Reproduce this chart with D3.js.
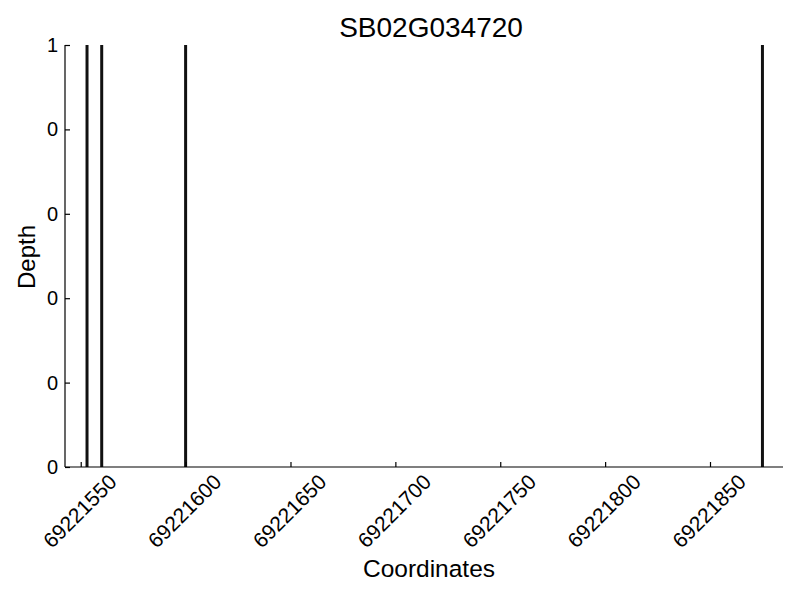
<!DOCTYPE html>
<html>
<head>
<meta charset="utf-8">
<script src="https://cdn.jsdelivr.net/npm/d3@7"></script>
<style>
  body { margin: 0; background: #fff; }
  text { font-family: "Liberation Sans", Arial, sans-serif; fill: #000; }
  .axis path, .axis line { stroke: #000; stroke-width: 1.2; }
</style>
</head>
<body>
<div id="chart-area"></div>
<script>

// DATA
var title = "SB02G034720";
var positions = [69221553, 69221560, 69221600, 69221875];
var depths = [1, 1, 1, 1];
var xTicks = [69221550, 69221600, 69221650, 69221700, 69221750, 69221800, 69221850];
var yTicks = [0, 0.2, 0.4, 0.6, 0.8, 1];

// SVG drawing area
var margin = {top: 45, right: 17, bottom: 133, left: 65};

var width = 800 - margin.left - margin.right,
    height = 600 - margin.top - margin.bottom;

var svg = d3.select("#chart-area").append("svg")
    .attr("width", width + margin.left + margin.right)
    .attr("height", height + margin.top + margin.bottom)
    .append("g")
    .attr("transform", "translate(" + margin.left + "," + margin.top + ")");

//SCALES
var x = d3.scaleLinear()
    .domain([69221542.5, 69221884.8])
    .range([0, width]);

var y = d3.scaleLinear()
    .domain([0, 1])
    .range([height, 0]);

//BARS
svg.selectAll(".bar")
    .data(positions)
    .enter().append("line")
    .attr("class", "bar")
    .attr("x1", function(d) { return x(d); })
    .attr("x2", function(d) { return x(d); })
    .attr("y1", function(d, i) { return y(depths[i]); })
    .attr("y2", y(0))
    .attr("stroke", "#111")
    .attr("stroke-width", 3);

//AXES
var xAxis = d3.axisBottom(x)
    .tickValues(xTicks)
    .tickSize(-5)
    .tickFormat("");

svg.append("g")
    .attr("class", "axis x-axis")
    .attr("transform", "translate(0," + height + ")")
    .call(xAxis)
    .call(function(g) { g.select(".domain").attr("d", "M0,0H" + width); });

svg.selectAll(".xlab")
    .data(xTicks)
    .enter().append("text")
    .attr("class", "xlab")
    .attr("transform", function(d) { return "translate(" + (x(d) - 1) + "," + (height + 44) + ") rotate(-45)"; })
    .attr("text-anchor", "middle")
    .attr("dy", "0.35em")
    .style("font-size", "21px")
    .text(function(d) { return d; });

// labels are truncated to integers, as in the original
var yAxis = d3.axisLeft(y)
    .tickValues(yTicks)
    .tickSize(-5)
    .tickPadding(7)
    .tickFormat(function(d) { return Math.floor(d); });

svg.append("g")
    .attr("class", "axis y-axis")
    .call(yAxis)
    .call(function(g) {
        g.select(".domain").attr("d", "M0," + height + "V0");
        g.selectAll("text").style("font-size", "20px").attr("fill", "#000");
    });

//LABELS
svg.append("text")
    .attr("x", width / 2 + 7)
    .attr("y", -8)
    .style("text-anchor", "middle")
    .style("font-size", "28px")
    .text(title);

svg.append("text")
    .attr("x", width / 2 + 5)
    .attr("y", height + 110)
    .style("text-anchor", "middle")
    .style("font-size", "24.5px")
    .text("Coordinates");

svg.append("text")
    .attr("transform", "rotate(270)")
    .attr("x", -212)
    .attr("y", -30)
    .style("text-anchor", "middle")
    .style("font-size", "24px")
    .text("Depth");

</script>
</body>
</html>
